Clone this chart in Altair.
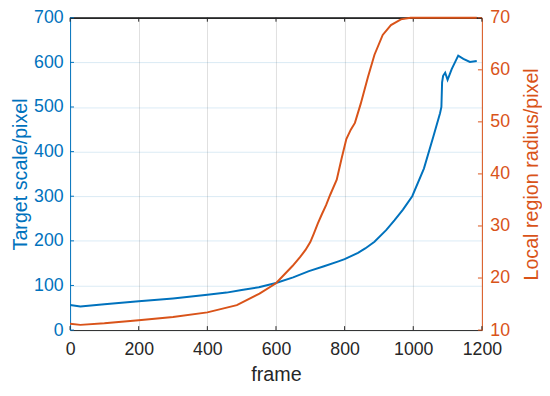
import altair as alt
import pandas as pd

# ---- data ----
blue_frames = [0, 30, 100, 200, 300, 400, 456, 500, 550, 600, 650, 696, 740, 782, 800,
               839, 860, 887, 921, 945, 970, 997, 1031, 1059, 1078, 1082, 1084, 1087,
               1093, 1100, 1112, 1131, 1146, 1165, 1185]
blue_scale = [56, 53, 58, 64.5, 71, 79, 84, 90, 96, 105.5, 118, 132, 143, 154, 159,
              173, 183, 198, 224, 246, 270, 300, 362, 435, 486, 500, 555, 570,
              577, 561, 585, 615, 608, 601, 603]

orange_frames = [0, 30, 100, 200, 300, 400, 486, 552, 600, 648, 670, 686, 700, 710, 722,
                 734, 746, 758, 777, 791, 805, 818, 830, 847, 868, 887, 911, 935, 964,
                 992, 1185]
orange_radius = [11.2, 11.0, 11.3, 11.9, 12.5, 13.4, 14.8, 17.0, 19.0, 22.3, 24.0, 25.4,
                 26.9, 28.5, 30.5, 32.3, 34.0, 36.0, 38.9, 42.9, 46.7, 48.5, 49.8, 53.5,
                 58.6, 62.9, 66.7, 68.6, 69.7, 70, 70]

x_ticks = [0, 200, 400, 600, 800, 1000, 1200]
left_ticks = [0, 100, 200, 300, 400, 500, 600, 700]
right_ticks = [10, 20, 30, 40, 50, 60, 70]

BLUE = "#0072BD"
ORANGE = "#D95319"
DARK = "#262626"
FONT = "Liberation Sans"
W, H = 418, 317

blue_df = pd.DataFrame({"frame": blue_frames, "scale": blue_scale})
orange_df = pd.DataFrame({"frame": orange_frames, "radius": orange_radius})
xt_df = pd.DataFrame({"frame": x_ticks})
lt_df = pd.DataFrame({"scale": left_ticks})
rt_df = pd.DataFrame({"radius": right_ticks})

x_enc = alt.X(
    "frame:Q",
    scale=alt.Scale(domain=[0, 1200], nice=False, zero=False),
    axis=alt.Axis(values=x_ticks, title="frame", grid=True, gridColor=DARK,
                  gridOpacity=0.15, domainColor=DARK, ticks=False,
                  labelColor=DARK, titleColor=DARK, labelFontSize=18,
                  titleFontSize=20, labelFont=FONT, titleFont=FONT,
                  titleFontWeight="normal", labelPadding=11, titlePadding=6,
                  labelFlush=False, labelOverlap=False, format="d"),
)

y_left = alt.Y(
    "scale:Q",
    scale=alt.Scale(domain=[0, 700], nice=False),
    axis=alt.Axis(values=left_ticks, title="Target scale/pixel", orient="left",
                  grid=True, gridColor=BLUE, gridOpacity=0.15, domainColor=BLUE,
                  ticks=False, labelColor=BLUE, titleColor=BLUE, labelFontSize=18,
                  titleFontSize=20, labelFont=FONT, titleFont=FONT,
                  titleFontWeight="normal", labelPadding=7, titlePadding=3,
                  labelOverlap=False, format="d"),
)

y_right = alt.Y(
    "radius:Q",
    scale=alt.Scale(domain=[10, 70], nice=False, zero=False),
    axis=alt.Axis(values=right_ticks, title="Local region radius/pixel", orient="right",
                  grid=False, domainColor=ORANGE, ticks=False, labelColor=ORANGE,
                  titleColor=ORANGE, labelFontSize=18, titleFontSize=20,
                  labelFont=FONT, titleFont=FONT, titleFontWeight="normal",
                  labelPadding=8, titlePadding=12, titleAngle=270,
                  titleBaseline="top", labelOverlap=False, format="d"),
)

blue_line = alt.Chart(blue_df).mark_line(color=BLUE, strokeWidth=2).encode(x=x_enc, y=y_left)

bottom_ticks = alt.Chart(xt_df).mark_rule(color=DARK, strokeWidth=1).encode(
    x=x_enc, y=alt.value(H), y2=alt.value(H - 4))
top_ticks = alt.Chart(xt_df).mark_rule(color=DARK, strokeWidth=1).encode(
    x=x_enc, y=alt.value(0), y2=alt.value(4))
top_line = alt.Chart(xt_df).mark_rule(color=DARK, strokeWidth=1, opacity=0.85).encode(
    x=alt.value(0), x2=alt.value(W), y=alt.value(0.5))
left_tick_marks = alt.Chart(lt_df).mark_rule(color=BLUE, strokeWidth=1).encode(
    y=y_left, x=alt.value(0), x2=alt.value(4))

orange_line = alt.Chart(orange_df).mark_line(color=ORANGE, strokeWidth=2).encode(x=x_enc, y=y_right)
right_tick_marks = alt.Chart(rt_df).mark_rule(color=ORANGE, strokeWidth=1).encode(
    y=y_right, x=alt.value(W), x2=alt.value(W - 4))

left_group = alt.layer(top_line, bottom_ticks, top_ticks, left_tick_marks, blue_line)
right_group = alt.layer(right_tick_marks, orange_line)

chart = alt.layer(left_group, right_group).resolve_scale(y="independent").properties(
    width=W, height=H,
    autosize=alt.AutoSizeParams(type="none"),
    padding={"left": 63, "top": 7, "right": 61, "bottom": 64},
    background="white",
).configure_view(stroke=None)

chart.save("out.html", embed_options={"renderer": "svg", "actions": False})
